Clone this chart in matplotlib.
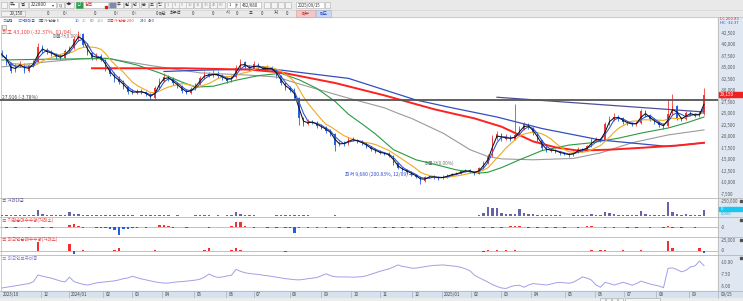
import matplotlib
matplotlib.use('Agg')
import matplotlib.pyplot as plt
import numpy as np
import pandas as pd
from matplotlib.patches import Rectangle
from matplotlib.transforms import blended_transform_factory as btf

plt.rcParams['font.family'] = ['Noto Sans CJK KR', 'DejaVu Sans']

# ---------------- data (3 trading days per candle) ----------------
first_open = 38200
closes = [37800,36000,34200,35500,35800,34300,35500,36200,39500,38700,
38400,38000,37400,37200,38600,39200,41200,42300,40000,38200,
37000,37600,36800,34800,33600,32600,32000,30800,29800,29600,
29900,29700,29200,28400,30500,32200,33100,32600,31600,31000,
30000,29600,30400,31400,32800,33600,33300,33800,33200,32800,
32200,33000,35000,36200,35200,34800,35800,35000,34700,35000,
34600,33200,31600,30600,30200,28500,24000,22800,23300,23100,
22400,22000,21300,20600,18300,18600,18500,19500,19300,18900,
18600,17800,17300,16800,16500,16300,15900,14200,13200,12800,
12300,11800,11300,10400,11200,11400,11200,11000,11300,11600,
11900,12000,12500,12700,12400,12000,13200,14300,15800,19800,
20500,19500,20000,19400,20400,21800,22700,22000,20800,19200,
17600,17000,17200,16800,16400,16300,16000,16600,17300,17100,
17900,19200,19500,19200,22800,23800,24400,24000,23200,22900,
22700,23000,25500,24600,23800,23200,22500,22300,25000,26800,
24000,23800,25200,24900,24600,25000,29150]
highs = [38800,38000,36300,36000,36500,36000,35900,36800,40300,39900,
39300,38900,38300,37900,39000,39800,42000,43100,42500,40300,
38500,38200,38000,37000,35200,34000,33200,32300,31000,30300,
30400,30300,30000,29500,31000,32800,33800,33500,32900,31900,
31200,30300,30800,31800,33300,34200,34000,34500,34200,33600,
33100,33500,35500,36900,36500,35600,36400,36000,35400,35500,
35300,34800,33400,31900,31000,30500,28600,24300,23800,23700,
23400,22700,22300,21600,20800,19000,19000,19900,19900,19600,
19200,18800,18000,17500,17100,16800,16600,16000,14400,13400,
13000,12500,12000,11500,11500,11700,11600,11400,11600,11900,
12200,12300,12800,13000,12900,12600,13500,14700,16200,20300,
21200,20800,20600,20300,27200,22300,23300,23000,22200,21000,
19400,17900,17600,17400,17000,16700,16500,16900,17700,17600,
18300,19700,20000,19800,23300,24500,25100,24800,24300,23500,
23200,23500,26000,25800,24900,24100,23500,22900,28200,29300,
27000,24400,25700,25500,25200,25600,30600]
lows = [37300,35500,33800,34000,35100,33900,34100,35200,36000,38200,
37900,37500,36900,36700,37000,38300,39000,40800,39500,37800,
36600,36800,36400,34300,33200,32000,31500,30300,29400,29200,
29300,29300,28800,28000,28300,30300,32000,32100,31200,30600,
29600,29200,29400,30200,31200,32600,32900,33100,32800,32400,
31800,32000,32800,34800,34800,34400,34600,34600,34300,34400,
34200,32800,31200,30200,29800,28000,22600,22300,22600,22700,
22000,21600,20900,20200,17000,18000,18100,18300,19000,18600,
18300,17500,17000,16500,16200,16000,15600,13900,12900,12500,
12000,11500,11000,9680,10200,11000,10900,10700,10800,11100,
11400,11700,11900,12300,12100,11800,11900,13000,14100,15600,
19400,19000,19200,19000,19200,20200,21500,21600,20400,18800,
17200,16700,16800,16500,16100,16000,15700,15800,16400,16800,
16900,17700,19000,18900,19000,22500,23500,23500,22800,22500,
22300,22400,22800,24200,23400,22800,22100,21800,22100,24800,
23600,23400,23600,24500,24200,24300,24800]

# trading value (thousand units)
vol = [20,25,22,18,20,15,18,25,110,35,
25,20,18,15,30,80,45,40,30,22,
18,15,20,25,20,18,15,20,18,15,
12,15,18,20,25,22,18,15,12,15,
12,10,12,15,20,18,15,12,15,12,
15,20,70,35,20,15,18,12,10,12,
10,15,18,20,15,25,30,20,15,12,
10,10,12,10,18,12,10,12,10,8,
8,8,8,7,7,8,8,12,10,8,
8,8,10,12,10,8,8,7,7,8,
8,8,10,10,8,8,20,50,165,140,
140,60,40,35,45,125,50,40,35,30,
25,20,18,15,15,12,12,15,20,18,
20,35,30,25,80,50,40,30,25,20,
20,25,90,40,30,25,20,30,250,80,
40,30,35,30,25,30,110]
# institutional net buy (thousand shares)
inst = [2,-1,3,-2,1,2,-1,2,4,-2,
1,-1,2,1,3,12,15,8,-2,1,
2,-1,-3,-5,-8,-12,-38,-10,-6,-3,
-2,1,-1,2,3,10,12,5,-1,2,
1,-2,3,2,4,3,-1,2,3,1,
2,5,28,25,8,3,-2,4,2,-1,
1,-2,3,-3,-5,-29,-4,2,-1,1,
-1,1,-2,1,2,-1,1,-1,2,1,
-1,1,1,-1,2,-1,1,-2,1,-1,
1,-1,1,2,-1,1,-1,1,-1,1,
1,-1,2,1,-1,1,2,-2,3,-3,
2,-2,4,6,8,5,3,-2,2,-1,
1,-1,2,-1,1,-2,1,2,-1,3,
7,8,4,2,-2,3,-1,2,1,-1,
2,-2,1,3,-1,2,1,-2,5,-4,
2,-1,1,2,-1,4,2]
# foreign net buy (thousand shares)
foreign = [1,-0.5,1,0.5,-1,1,0.5,1,20,-1,
0.5,1,-0.5,1,1,15.6,-7.7,1,2,0.5,
-0.5,1,0.5,-1,1,2,6.2,1,0.5,-0.5,
1,0.5,-1,1,2,1,0.5,-1,0.5,1,
0.5,-0.5,1,0.5,1,2,7,1,-0.5,1,
0.5,2,7,3,1,-1,0.5,1,-0.5,0.5,
1,-1,0.5,-1.5,-1,0.5,1,-0.5,0.5,1,
-0.5,0.5,1,-0.5,1,0.5,-1,0.5,1,-0.5,
0.5,-0.5,1,0.5,-1,0.5,-0.5,1,-1,0.5,
-0.5,0.5,-1,1,-0.5,0.5,1,-0.5,0.5,-1,
0.5,-0.5,1,-1,0.5,-0.5,1,-1.5,2,-1,
1.5,-1,2,-1,2.5,1,-1,1,-0.5,1,
0.5,-1,1,0.5,-0.5,1,-1,0.5,1,-0.5,
1,3,-1,1.5,2,1,-1,0.5,2,1,
0.5,-1,2,1,-0.5,1,0.5,1,24,6,
1,-0.5,1,0.5,-0.5,7.8,-4]
# foreign ownership ratio (%)
ratio = [4.7,4.85,5.0,5.15,5.3,5.45,5.6,6.0,7.35,7.1,
6.9,6.7,6.4,6.1,5.95,6.9,6.0,5.7,5.45,5.3,
5.5,5.75,5.85,5.95,6.05,6.15,6.35,6.6,6.75,7.1,
6.8,6.55,6.35,6.15,5.95,5.8,5.7,5.7,5.85,5.95,
6.0,6.1,6.2,6.3,6.5,6.9,7.55,7.1,6.85,6.95,
7.15,7.3,8.5,8.1,7.8,7.65,7.55,7.45,7.3,7.2,
7.05,6.9,6.75,6.6,6.5,6.4,6.35,6.45,6.6,6.7,
6.85,7.2,7.6,7.2,7.0,6.95,6.95,6.95,6.9,6.95,
7.0,7.2,7.5,7.8,8.1,8.35,8.6,9.0,9.4,9.1,
8.95,8.75,8.75,8.9,9.05,9.2,9.3,9.35,9.4,9.3,
9.2,9.1,8.9,8.6,8.2,7.3,6.8,6.35,5.9,5.4,
5.0,4.7,4.6,4.95,5.2,5.25,4.85,5.3,5.6,5.5,
5.4,5.3,5.5,5.75,5.85,5.75,5.65,5.9,6.4,6.95,
6.7,6.3,5.3,4.85,5.85,5.6,5.3,5.55,5.85,5.6,
5.25,5.6,6.1,5.8,5.5,5.3,5.1,4.75,8.7,8.8,
8.45,8.0,8.3,9.0,9.2,10.2,9.25]

# long moving averages (candle index, price)
ma60_idx = [0,12,24,30,35,40,43,47,52,57,62,66,70,74,77,80,83,87,92,97,101,106,108,111,115,120,126,131,137,142,148,152,156]
ma60_val = [36700,36900,37000,35600,33900,31900,30800,31000,32300,33300,33800,32400,30500,27700,24900,22800,20600,17200,15000,13800,12800,12100,12300,13300,15000,17000,18200,18700,19700,20800,21900,23000,24300]
ma120_idx = [0,10,18,23,33,44,55,61,66,72,77,85,88,91,98,104,108,111,118,127,133,140,148,156]
ma120_val = [35200,36300,37000,37100,35500,33900,33400,33000,31500,29800,28400,26300,25100,24000,20800,17200,15700,15200,15000,15300,16500,18700,20400,21500]
ma200_idx = [20,30,40,55,62,74,85,96,100,105,111,118,123,128,135,142,150,156]
ma200_val = [34900,34900,34900,34600,34000,31700,29000,26000,25100,24000,22200,19000,17700,17000,17200,17600,18100,18700]
ma240_idx = [36,45,55,62,77,92,100,110,120,133,148,156]
ma240_val = [34200,34500,34700,34500,32700,28000,26300,24300,21800,19300,17900,18700]
trend_idx = [110, 156]
trend_val = [28600, 25400]
hline_price = 27916
cur_price = 29150
price_ticks = [42500,40000,37500,35000,32500,30000,27500,25000,22500,20000,17500,15000,12500,10000,7500]
month_idx = [0,9.1,15.3,22.9,29.3,36,43.1,50.2,56.4,64.4,71.3,78,84.4,91.6,98.2,104.7,111.3,118,125.6,132.2,138.7,145.8,153.1]
month_lbl = ['2023/10','12','2024/01','02','03','04','05','06','07','08','09','10','11','12','2025/01','02','03','04','05','06','07','08','09']

# ---------------- figure ----------------
W, H = 743, 301
fig = plt.figure(figsize=(W/100, H/100), dpi=100)

def axpx(x0, y0, x1, y1):
    return fig.add_axes([x0/W, 1-y1/H, (x1-x0)/W, (y1-y0)/H])

bg = axpx(0, 0, W, H)
bg.set_xlim(0, W); bg.set_ylim(H, 0); bg.axis('off')
bg.add_patch(Rectangle((0, 0), W, H, color='white', zorder=0))
bg.add_patch(Rectangle((0, 0), W, 17, color='#e9e9e9', zorder=1))
bg.plot([0, W], [9.5, 9.5], color='#d4d4d4', lw=0.5, zorder=2)
bg.plot([0, W], [17, 17], color='#c8c8c8', lw=0.6, zorder=2)
bg.add_patch(Rectangle((718, 17), W-718, 274, color='#dfe8f2', zorder=1))
bg.add_patch(Rectangle((0, 291), W, 7, color='#d7e2ee', zorder=1))
bg.add_patch(Rectangle((0, 298), W, 3, color='#ececec', zorder=1))

def T(x, y, s, c='#333333', size=3.3, ha='left', **kw):
    bg.text(x, y, s, color=c, fontsize=size, ha=ha, va='center', zorder=5, **kw)

def box(x, y, w, h, fc='white', ec='#b0b0b0'):
    bg.add_patch(Rectangle((x, y), w, h, fc=fc, ec=ec, lw=0.4, zorder=3))

# row 1 widgets
box(1, 1.5, 6, 6.5, '#f4f4f4')
box(8.5, 1.5, 9, 6.5); T(9.5, 5, '주▾', size=3.0)
box(19, 1.5, 9, 6.5, '#f4f4f4'); T(21, 5, '결', size=3.0)
box(29, 1.5, 27, 6.5); T(31, 5, '222800', size=3.3); T(52, 5, '▾', size=2.8)
box(57, 1.5, 7, 6.5, '#f4f4f4'); T(58.3, 5, 'Q', size=3.0)
box(65, 1.5, 9, 6.5, '#f4f4f4'); T(66, 5, '◀▶', size=2.4)
box(76, 1.5, 6.5, 6.5, '#2e9a4a', '#2e9a4a'); T(77.2, 5, '신', c='white', size=3.0)
box(83, 1.5, 25, 6.5); T(84.5, 5, '심텍', c='#d02020', size=3.2)
bg.add_patch(Rectangle((104.5, 6), 2.5, 1.8, color='#d02020', zorder=4))
box(109, 1.5, 6.5, 6.5, '#7a8ab0')
for xx, s in [(117, '주'), (125, '월'), (133, '년'), (142, '분'), (150, '초'), (158, '틱')]:
    box(xx-1.2, 1.5, 7.5, 6.5, '#f4f4f4'); T(xx, 5, s, size=3.0)
for xx, s in [(167, '1'), (174, '3'), (181, '5'), (187.5, '10'), (195.5, '15'), (203.5, '30'), (211.5, '45'), (219, '60')]:
    box(xx-1.8, 1.5, 7.5, 6.5, '#f4f4f4'); T(xx, 5, s, c='#999999', size=2.9)
box(227, 1.5, 8, 6.5); T(229, 5, '1', size=3.0)
box(235.5, 1.5, 4, 6.5, '#f4f4f4'); T(236.2, 5, '▾', size=2.4)
box(240, 1.5, 21, 6.5); T(242, 5, '462/680', size=3.1)
for xx in [264, 271, 278, 285]:
    box(xx, 1.5, 6, 6.5, '#f4f4f4')
box(296, 1.5, 28, 6.5); T(297.5, 5, '2025/09/15', size=3.1)
box(324.5, 1.5, 5, 6.5, '#f4f4f4')
# row 2 fields
box(1, 10.5, 24, 5.5, '#f2f2f2'); T(23.5, 13.3, '29,150', ha='right', size=3.1)
for xx, s in [(49, '0'), (65, '0'), (96, '0'), (116, '0'), (134, '0'), (158, '0'), (194, '0'), (214, '0'), (238, '0'), (263, '0'), (288, '0')]:
    T(xx, 13.3, s, ha='right', size=3.1)
for xx in [66, 117, 135]:
    T(xx, 13.3, '(', size=2.8, c='#777777')
T(159, 13.3, '매단', size=3.0); T(170, 13.3, '최우선', size=3.0)
T(226, 13.3, '시', size=3.0); T(249, 13.3, '고', size=3.0); T(274, 13.3, '저', size=3.0)
box(296, 10.3, 19, 6.2, '#f5c6c6', '#d0a0a0'); T(305.5, 13.3, '매수', c='#c02020', size=3.1, ha='center')
box(316, 10.3, 15, 6.2, '#c6d8f5', '#a0b0d0'); T(323.5, 13.3, '매도', c='#2040c0', size=3.1, ha='center')

# title row
title_parts = [(2, '≡', '#777777'), (5.5, '심텍', '#3050c0'), (17, '≡', '#777777'), (20.5, '거래대금', '#3050c0'),
               (37, '≡', '#777777'), (40.5, '종가 단순 5', '#555555'), (75, '10', '#3050d0'), (82, '20', '#e8a020'),
               (89.5, '60', '#2a9a40'), (97, '120', '#a0a0a0'), (106.5, '≡', '#777777'),
               (110, '종가 단순 200', '#ff3030'), (139.5, '240', '#3050c0'), (148, '480', '#404090')]
for xx, s, c in title_parts:
    T(xx, 20.8, s, c=c, size=2.9)
box(2, 24.5, 4, 4, '#f0f0f0', '#909090')

T(720, 19.5, 'LC 200.83', c='#e03030', size=3.0)
T(720, 23.5, 'HC -32.37', c='#3050c0', size=3.0)

for yy in [197.7, 217.3, 236.7, 255, 291]:
    bg.plot([0, W], [yy, yy], color='#b8b8b8', lw=0.6, zorder=2)
bg.plot([718, 718], [17, 291], color='#b8b8b8', lw=0.6, zorder=2)
bg.plot([0.5, 0.5], [25, 291], color='#c4c4c4', lw=0.6, zorder=2)

# ---------------- main price panel ----------------
N = len(closes)
idx = np.arange(N)
opens = [first_open] + closes[:-1]
XL = ((0 - 2) / 4.5, (718 - 2) / 4.5)

def y2p(y):
    return 42500 - (y - 33.3) * 217.4

ax = axpx(0, 25, 718, 197.7)
ax.set_xlim(*XL)
ax.set_ylim(y2p(197.7), y2p(25))
ax.axis('off')
ax.patch.set_alpha(0)

o = np.array(opens, float); c = np.array(closes, float)
up = c >= o
col = np.where(up, '#f23a3a', '#2462e8')
ax.vlines(idx, lows, highs, colors=col, lw=0.6, zorder=2)
bh = np.where(np.abs(c - o) < 80, 80, c - o)
ax.bar(idx, bh, bottom=o, width=0.42, color=col, lw=0, zorder=2)

s = pd.Series(closes, dtype=float)
ma5 = s.rolling(2, min_periods=1).mean()
ma10 = s.rolling(3, min_periods=1).mean()
ma20 = s.rolling(7, min_periods=1).mean()
ax.plot(ma120_idx, ma120_val, color='#9a9a9a', lw=0.8, zorder=3)
ax.plot(ma60_idx, ma60_val, color='#2a9a40', lw=0.8, zorder=3)
ax.plot(ma240_idx, ma240_val, color='#3050c0', lw=0.9, zorder=3)
ax.plot(ma200_idx, ma200_val, color='#ff2020', lw=1.4, zorder=3)
ax.plot(idx, ma20, color='#f0aa20', lw=0.8, zorder=4)
ax.plot(idx, ma10, color='#2a4fd8', lw=0.75, zorder=4)
ax.plot(idx, ma5, color='#111111', lw=0.75, zorder=5)
ax.plot(trend_idx, trend_val, color='#50509a', lw=0.9, zorder=4)
ax.axhline(hline_price, color='#555555', lw=1.3, zorder=6)

T(2, 31.5, '최고 43,100 (-32.37%, 01/04)', c='#f04040', size=3.9)
T(53, 36, '매물가(0.00%)', c='#777777', size=3.4)
T(425, 163, '매물가(0.00%)', c='#777777', size=3.4)
T(345, 174.5, '최저 9,680 (200.83%, 12/09) →', c='#3050d0', size=3.6)
T(2, 97, '27,916 (-3.78%)', c='#444444', size=3.6)

tr = btf(fig.transFigure, ax.transData)
for p in price_ticks:
    ax.text(721/W, p, '-' + f'{p:,}', transform=tr, fontsize=3.2, color='#555555', va='center', ha='left', zorder=7)
ax.add_patch(Rectangle((718.5/W, cur_price - 560), 24.5/W, 1120, transform=tr, color='#ee2020',
                       clip_on=False, zorder=8))
ax.text(720/W, cur_price, f'{cur_price:,}', transform=tr, fontsize=3.3, color='white', va='center', ha='left', zorder=9)
ax.text(721/W, cur_price - 880, '8.52%', transform=tr, fontsize=2.6, color='#e03030', va='center', ha='left', zorder=8)

# ---------------- volume panel ----------------
av = axpx(0, 197.7, 718, 217.3)
av.set_xlim(*XL)
av.set_ylim(-17, 318.5)
av.axis('off'); av.patch.set_alpha(0)
av.bar(idx, vol, width=0.5, color='#6464ac', lw=0, zorder=2)
trv = btf(fig.transFigure, av.transData)
av.text(721/W, 250, '-250,000', transform=trv, fontsize=3.2, color='#555555', va='center')
av.add_patch(Rectangle((718.5/W, 95), 24.5/W, 70, transform=trv, color='#19c8f0', clip_on=False, zorder=3))
av.text(721/W, 130, '0', transform=trv, fontsize=3.2, color='white', va='center', zorder=4)
av.text(721/W, 45, '0,000', transform=trv, fontsize=2.9, color='#19a8e0', va='center')
T(2, 200.8, '≡ 거래대금', c='#6060a0', size=3.2)

# ---------------- institutional panel ----------------
ai = axpx(0, 217.3, 718, 236.7)
ai.set_xlim(*XL)
ai.set_ylim(-9.4 * 5, 10 * 5)
ai.axis('off'); ai.patch.set_alpha(0)
inst_a = np.array(inst, float)
ai.axhline(0, color='#9ab8ec', lw=0.6, zorder=1)
ai.bar(idx, inst_a, width=0.45, color=np.where(inst_a >= 0, '#f03030', '#2060e0'), lw=0, zorder=2)
tri = btf(fig.transFigure, ai.transData)
ai.text(721/W, 0, '-0', transform=tri, fontsize=3.2, color='#555555', va='center')
T(2, 220.3, '≡ 기관순매수수량(거래소)', c='#e04040', size=3.3)

# ---------------- foreign panel ----------------
af = axpx(0, 236.7, 718, 255)
af.set_xlim(*XL)
af.set_ylim(-4 * 2.336, 14.3 * 2.336)
af.axis('off'); af.patch.set_alpha(0)
fa = np.array(foreign, float)
af.axhline(0, color='#9ab8ec', lw=0.6, zorder=1)
af.bar(idx, fa, width=0.45, color=np.where(fa >= 0, '#f03030', '#2060e0'), lw=0, zorder=2)
trf = btf(fig.transFigure, af.transData)
af.text(721/W, 25, '-25,000', transform=trf, fontsize=3.2, color='#555555', va='center')
af.text(721/W, 0, '-0', transform=trf, fontsize=3.2, color='#555555', va='center')
T(2, 239.7, '≡ 외국인순매수수량(거래소)', c='#e04040', size=3.3)

# ---------------- ownership ratio panel ----------------
ar = axpx(0, 255, 718, 291)
ar.set_xlim(*XL)
ar.set_ylim(10 - 29 / 4.9, 10 + 7 / 4.9)
ar.axis('off'); ar.patch.set_alpha(0)
ar.plot(idx, ratio, color='#a0a0e6', lw=0.7)
trr = btf(fig.transFigure, ar.transData)
for v in [10.0, 7.5, 5.0]:
    ar.text(721/W, v, f'-{v:.2f}', transform=trr, fontsize=3.2, color='#555555', va='center')
T(2, 258.5, '≡ 외국인보유비중', c='#8080c8', size=3.3)

for yy in [199.5, 219, 238.5, 257]:
    bg.add_patch(Rectangle((739.5, yy), 2, 2, color='#505050', zorder=5))

# ---------------- date strip ----------------
ad = axpx(0, 291, 718, 298)
ad.set_xlim(*XL); ad.set_ylim(0, 1)
ad.axis('off'); ad.patch.set_alpha(0)
for m, lb in zip(month_idx, month_lbl):
    if m > 0:
        ad.axvline(m - 0.4, color='#a6b4c6', lw=0.5)
    ad.text(m + 0.1, 0.5, lb, fontsize=3.2, color='#444444', va='center', ha='left')
T(721, 294.5, '09/15', size=3.2, c='#444444')
bg.plot([718, 718], [291, 298], color='#a6b4c6', lw=0.5, zorder=3)
for xx in [600, 606, 612, 618]:
    box(xx, 298.3, 5, 2.5, '#f4f4f4', '#a0a0a0')
box(625, 298.3, 35, 2.5, '#f4f4f4', '#a0a0a0')

fig.savefig('out.png', dpi=100)
